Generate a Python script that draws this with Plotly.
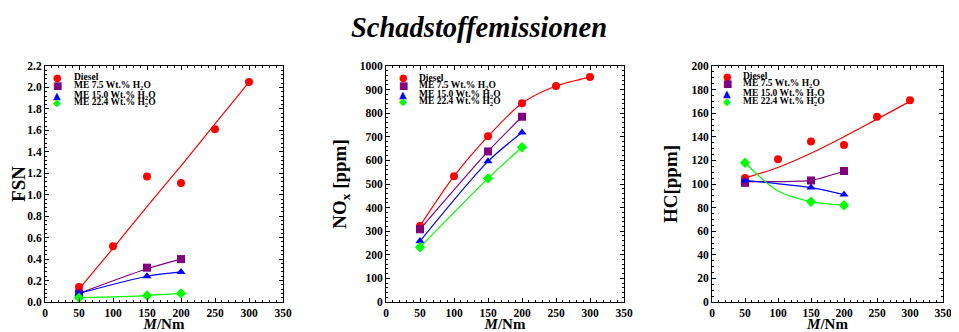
import plotly.graph_objects as go

# ---------------- data ----------------
torque_diesel = [50, 100, 150, 200, 250, 300]
torque_me = [50, 150, 200]

series_names = ["Diesel", "ME 7.5 Wt.% H<sub>2</sub>O",
                "ME 15.0 Wt.% H<sub>2</sub>O", "ME 22.4 Wt.% H<sub>2</sub>O"]

# FSN
fsn_diesel = [0.14, 0.52, 1.17, 1.11, 1.61, 2.05]
fsn_me75 = [0.08, 0.32, 0.40]
fsn_me150 = [0.08, 0.24, 0.28]
fsn_me224 = [0.04, 0.06, 0.08]
fsn_diesel_fit = [0.12, 0.50, 0.89, 1.27, 1.66, 2.05]
fsn_me75_fit = [0.08, 0.31, 0.40]
fsn_me150_fit = [0.08, 0.24, 0.28]
fsn_me224_fit = [0.04, 0.06, 0.08]

# NOx
nox_diesel = [322, 533, 702, 842, 915, 953]
nox_me75 = [308, 638, 785]
nox_me150 = [258, 596, 718]
nox_me224 = [232, 524, 656]

# HC
hc_diesel = [105, 121, 136, 133, 157, 171]
hc_me75 = [101, 103, 111]
hc_me150 = [103, 97, 91]
hc_me224 = [118, 85, 82]
hc_diesel_fit = [105, 114, 126, 140, 155, 170]
hc_me75_fit_x = [50, 100, 150, 200]
hc_me75_fit = [102, 102, 103, 111]
hc_me150_fit = [103, 97, 91]
hc_me224_fit_x = [50, 100, 150, 200]
hc_me224_fit = [118, 94, 85, 82]

colors = ["#ff0000", "#800080", "#0000ff", "#00ff00"]
symbols = ["circle", "square", "triangle-up", "diamond"]
legend_glyphs = ["●", "■", "▲", "◆"]

FONT = "Liberation Serif"

fig = go.Figure()

panels = [
    dict(xa="x", ya="y",
         pts=[(torque_diesel, fsn_diesel), (torque_me, fsn_me75), (torque_me, fsn_me150), (torque_me, fsn_me224)],
         fits=[(torque_diesel, fsn_diesel_fit), (torque_me, fsn_me75_fit), (torque_me, fsn_me150_fit), (torque_me, fsn_me224_fit)]),
    dict(xa="x2", ya="y2",
         pts=[(torque_diesel, nox_diesel), (torque_me, nox_me75), (torque_me, nox_me150), (torque_me, nox_me224)],
         fits=[(torque_diesel, nox_diesel), (torque_me, nox_me75), (torque_me, nox_me150), (torque_me, nox_me224)]),
    dict(xa="x3", ya="y3",
         pts=[(torque_diesel, hc_diesel), (torque_me, hc_me75), (torque_me, hc_me150), (torque_me, hc_me224)],
         fits=[(torque_diesel, hc_diesel_fit), (hc_me75_fit_x, hc_me75_fit), (torque_me, hc_me150_fit), (hc_me224_fit_x, hc_me224_fit)]),
]

for p in panels:
    for i in range(4):
        fx, fy = p["fits"][i]
        fig.add_trace(go.Scatter(x=fx, y=fy, mode="lines", xaxis=p["xa"], yaxis=p["ya"],
                                 line=dict(color=colors[i], width=1.2, shape="spline", smoothing=0.8),
                                 showlegend=False, hoverinfo="skip"))
        px, py = p["pts"][i]
        fig.add_trace(go.Scatter(x=px, y=py, mode="markers", xaxis=p["xa"], yaxis=p["ya"],
                                 name=series_names[i], showlegend=False,
                                 marker=dict(color=colors[i], symbol=symbols[i], size=8,
                                             line=dict(width=0))))

# page body has an 8px margin: figure is drawn at (8, 8) in the window
OFF = 8
W, H = 959 - OFF, 332 - OFF
def px_x(sx):
    return (sx - OFF) / W
def px_y(sy):
    return 1 - (sy - OFF) / H
def xd(a, b):
    return [px_x(a), px_x(b)]
ydom = [px_y(302), px_y(66)]

axis_common = dict(showline=True, linecolor="black", linewidth=1, mirror="allticks",
                   ticks="inside", ticklen=4, tickcolor="black", showgrid=False, zeroline=False,
                   automargin=False,
                   tickfont=dict(family=FONT, size=11.5, color="black", weight="bold"))

def xaxis(dom, anchor):
    return dict(domain=dom, anchor=anchor, range=[0, 350], dtick=50, tick0=0,
                minor=dict(ticks="inside", dtick=10, ticklen=2, tickcolor="black"),
                title=dict(text="<i>M</i>/Nm", font=dict(family=FONT, size=15, color="black", weight="bold"),
                           standoff=0),
                **axis_common)

def yaxis(anchor, rng, dt, mdt, title, fmt=None):
    d = dict(domain=ydom, anchor=anchor, range=rng, dtick=dt, tick0=0,
             minor=dict(ticks="inside", dtick=mdt, ticklen=2, tickcolor="black"),
             title=dict(text=title, font=dict(family=FONT, size=19, color="black", weight="bold"),
                        standoff=8),
             **axis_common)
    if fmt:
        d["tickformat"] = fmt
    return d

# legend drawn as text annotations (positions in window pixels)
legend_specs = [
    (57, 72, [77, 86, 95, 103]),
    (403, 417, [78, 86, 94, 102]),
    (727, 741, [76, 84, 93, 102]),
]
annotations = []
for gx, tx, ys in legend_specs:
    for i in range(4):
        annotations.append(dict(x=px_x(gx), y=px_y(ys[i]), xref="paper", yref="paper",
                                text=legend_glyphs[i], showarrow=False, xanchor="center", yanchor="middle",
                                font=dict(family="DejaVu Sans", size=10, color=colors[i])))
        annotations.append(dict(x=px_x(tx), y=px_y(ys[i]), xref="paper", yref="paper",
                                text="<b>" + series_names[i] + "</b>", showarrow=False,
                                xanchor="left", yanchor="middle",
                                font=dict(family=FONT, size=9.5, color="black")))

fig.update_layout(
    width=W, height=H,
    margin=dict(l=0, r=0, t=0, b=0),
    paper_bgcolor="white", plot_bgcolor="white",
    showlegend=False,
    title=dict(text="<b><i>Schadstoffemissionen</i></b>", x=px_x(479), xanchor="center",
               y=px_y(27), yanchor="middle",
               font=dict(family=FONT, size=28.5, color="black")),
    xaxis=xaxis(xd(45, 283), "y"),
    yaxis=yaxis("x", [0, 2.2], 0.2, 0.04, "FSN", ".1f"),
    xaxis2=xaxis(xd(386, 624), "y2"),
    yaxis2=yaxis("x2", [0, 1000], 100, 20, "NO<sub>x</sub> [ppm]"),
    xaxis3=xaxis(xd(712, 943), "y3"),
    yaxis3=yaxis("x3", [0, 200], 20, 5, "HC[ppm]"),
    annotations=annotations,
)

fig.write_html("out.html")
